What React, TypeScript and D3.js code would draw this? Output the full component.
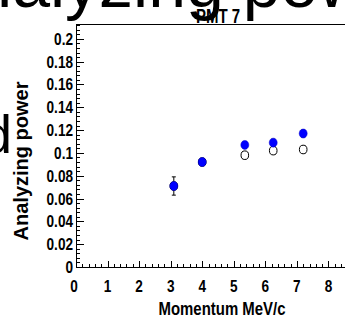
import React from "react";
import * as d3 from "d3";

// chart values
const momentum = [3.1, 4.0, 5.35, 6.25, 7.2];
const filledPower = [0.071, 0.092, 0.107, 0.109, 0.117];
const filledError = [0.008, 0.003, 0.003, 0.003, 0.003];
const openPower = [0.071, 0.092, 0.098, 0.102, 0.103];
const openError = [0.003, 0.003, 0.003, 0.003, 0.003];
const xMajorTicks = [0, 1, 2, 3, 4, 5, 6, 7, 8, 9];
const yMajorTicks = [0, 0.02, 0.04, 0.06, 0.08, 0.1, 0.12, 0.14, 0.16, 0.18, 0.2];

const title = "PMT 7";
const xTitle = "Momentum MeV/c";
const yTitle = "Analyzing power";

const font = "'Liberation Sans', Arial, Helvetica, sans-serif";

// narrow bold text, like ROOT's helvetica labels
const Narrow = ({ x, y, size, squeeze = 0.85, anchor = "middle", rotate = 0, children }: any) => (
  <text
    transform={`translate(${x},${y}) rotate(${rotate}) scale(${squeeze},1)`}
    fontFamily={font}
    fontSize={size}
    fontWeight="bold"
    textAnchor={anchor}
    fill="#000"
  >
    {children}
  </text>
);

const App = () => {
  const width = 345;
  const height = 320;
  const left = 76;
  const top = 24;
  const bottom = 267;
  const right = 360;

  const x = d3.scaleLinear().domain([0, 9]).range([left, right]);
  const y = d3.scaleLinear().domain([0, 0.213]).range([bottom, top]);

  const xMinor = d3.range(0, 9.001, 0.2);
  const yMinor = d3.range(0, 0.2131, 0.004);

  const points = momentum.map((m, i) => ({
    m,
    f: filledPower[i],
    fe: filledError[i],
    o: openPower[i],
    oe: openError[i],
  }));

  const errBar = (cx: number, v: number, e: number, key: string) => (
    <g key={key} stroke="#000" strokeWidth={1}>
      <line x1={cx} x2={cx} y1={y(v - e)} y2={y(v + e)} />
      <line x1={cx - 2} x2={cx + 2} y1={y(v - e)} y2={y(v - e)} />
      <line x1={cx - 2} x2={cx + 2} y1={y(v + e)} y2={y(v + e)} />
    </g>
  );

  return (
    <svg
      width={width}
      height={height}
      style={{ position: "absolute", left: 0, top: 0, background: "#fff" }}
    >
      <rect width={width} height={height} fill="#fff" />

      {/* oversized leftover text from the canvas */}
      <text x={-71} y={7} fontFamily={font} fontSize={68} fill="#000">
        Analyzing power
      </text>
      <text x={12} y={153} fontFamily={font} fontSize={54} fill="#000" textAnchor="end">
        d
      </text>

      {/* frame */}
      <g stroke="#000" strokeWidth={1} fill="none">
        <line x1={left} x2={right} y1={top + 0.5} y2={top + 0.5} />
        <line x1={left + 0.5} x2={left + 0.5} y1={top} y2={bottom} />
        <line x1={left} x2={right} y1={bottom + 0.5} y2={bottom + 0.5} />
      </g>

      {/* y ticks */}
      <g stroke="#000" strokeWidth={1}>
        {yMinor.map((v) => (
          <line key={"ym" + v} x1={left} x2={left + 4} y1={Math.round(y(v)) + 0.5} y2={Math.round(y(v)) + 0.5} />
        ))}
        {yMajorTicks.map((v) => (
          <line key={"yM" + v} x1={left} x2={left + 8} y1={Math.round(y(v)) + 0.5} y2={Math.round(y(v)) + 0.5} />
        ))}
      </g>
      {yMajorTicks.map((v) => (
        <Narrow key={"yl" + v} x={left - 3} y={y(v) + 6} size={16} anchor="end">
          {String(+v.toFixed(2))}
        </Narrow>
      ))}

      {/* x ticks */}
      <g stroke="#000" strokeWidth={1}>
        {xMinor.map((v) => (
          <line key={"xm" + v} x1={Math.round(x(v)) + 0.5} x2={Math.round(x(v)) + 0.5} y1={bottom} y2={bottom - 3} />
        ))}
        {xMajorTicks.map((v) => (
          <line key={"xM" + v} x1={Math.round(x(v)) + 0.5} x2={Math.round(x(v)) + 0.5} y1={bottom} y2={bottom - 6} />
        ))}
      </g>
      {xMajorTicks.map((v) => (
        <Narrow key={"xl" + v} x={x(v) - (v === 0 ? 2 : 0)} y={292} size={16}>
          {v}
        </Narrow>
      ))}

      {/* titles */}
      <Narrow x={218} y={23} size={20} squeeze={0.75}>
        {title}
      </Narrow>
      <Narrow x={222} y={315} size={18} squeeze={0.83}>
        {xTitle}
      </Narrow>
      <Narrow x={28} y={161} size={20} squeeze={1} rotate={-90}>
        {yTitle}
      </Narrow>

      {/* open markers */}
      {points.map((d, i) => errBar(x(d.m), d.o, d.oe, "oe" + i))}
      {points.map((d, i) => (
        <ellipse key={"o" + i} cx={x(d.m)} cy={y(d.o)} rx={3.8} ry={4.3} fill="#fff" stroke="#000" strokeWidth={1} />
      ))}

      {/* filled markers */}
      {points.map((d, i) => errBar(x(d.m), d.f, d.fe, "fe" + i))}
      {points.map((d, i) => (
        <ellipse key={"f" + i} cx={x(d.m)} cy={y(d.f)} rx={4} ry={4.5} fill="#0000ff" stroke="#0000cc" strokeWidth={0.5} />
      ))}
    </svg>
  );
};

export default App;
